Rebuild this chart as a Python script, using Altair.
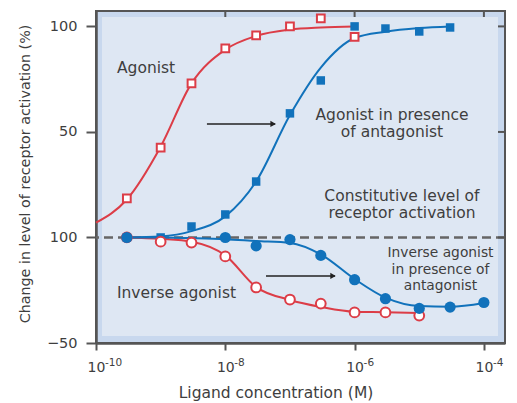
import altair as alt
import pandas as pd

# ---------------- data ----------------
# measured points
conc_agonist = [3e-10, 1e-9, 3e-9, 1e-8, 3e-8, 1e-7, 3e-7, 1e-6]
resp_agonist = [18.5, 42.6, 73, 89.6, 95.7, 100, 103.8, 95]

conc_ag_antag = [3e-10, 1e-9, 3e-9, 1e-8, 3e-8, 1e-7, 3e-7, 1e-6, 3e-6, 1e-5, 3e-5]
resp_ag_antag = [0, 0, 5.2, 10.9, 26.5, 58.8, 74.4, 100, 99, 97.6, 99.5]

conc_inverse = [3e-10, 1e-9, 3e-9, 1e-8, 3e-8, 1e-7, 3e-7, 1e-6, 3e-6, 1e-5]
resp_inverse = [0, -2, -2.4, -9, -23.7, -29.4, -31.3, -35.5, -35.5, -37]

conc_inv_antag = [3e-10, 1e-8, 3e-8, 1e-7, 3e-7, 1e-6, 3e-6, 1e-5, 3e-5, 1e-4]
resp_inv_antag = [0, 0, -4, -1, -8.5, -20, -29, -33.6, -33, -30.8]

# fitted curves
fit_agonist_x = [1e-10, 3e-10, 1e-9, 3e-9, 1e-8, 3e-8, 1e-7, 3e-7, 1e-6]
fit_agonist_y = [7, 18, 43, 73, 89, 95.5, 98.5, 99.5, 100]

fit_ag_antag_x = [3e-10, 1e-9, 3e-9, 1e-8, 3e-8, 1e-7, 3e-7, 1e-6, 3e-6, 1e-5, 3e-5]
fit_ag_antag_y = [0, 0.5, 3, 10, 26.5, 58, 80.5, 94.5, 97.5, 99.2, 100]

fit_inverse_x = [3e-10, 1e-9, 3e-9, 1e-8, 3e-8, 1e-7, 3e-7, 1e-6, 3e-6, 1e-5]
fit_inverse_y = [0, -0.7, -2, -8.5, -23.5, -29.6, -32.9, -35.2, -35.4, -35.8]

fit_inv_antag_x = [3e-10, 1e-9, 3e-9, 1e-8, 3e-8, 1e-7, 3e-7, 1e-6, 3e-6, 1e-5, 3e-5, 1e-4]
fit_inv_antag_y = [0, 0, -0.3, -0.8, -1.7, -2.6, -8, -19.7, -28.5, -32.5, -32.8, -31]

# annotations
big_labels = ["Agonist", "Agonist in presence", "of antagonist",
              "Constitutive level of", "receptor activation", "Inverse agonist"]
big_label_x = [2.11e-10, 3.79e-6, 3.79e-6, 5.4e-6, 5.4e-6, 2.11e-10]
big_label_y = [80.3, 58.1, 50.0, 19.8, 11.5, -26.3]
big_label_align = ["left", "center", "center", "center", "center", "left"]

small_labels = ["Inverse agonist", "in presence of", "antagonist"]
small_label_x = [2.13e-5, 2.13e-5, 2.13e-5]
small_label_y = [-7.3, -15.2, -23.0]

arrow_start = [5.2e-9, 4.26e-8]
arrow_end = [5.9e-8, 4.98e-7]
arrow_level = [53.8, -18.2]

x_ticks = [1e-10, 1e-8, 1e-6, 1e-4]
x_exponents = ["-10", "-8", "-6", "-4"]
y_ticks = [-50, 0, 50, 100]
baseline_level = [0]

# ---------------- styling ----------------
RED = "#dc3d47"
BLUE = "#1172bb"
TXT = "#3e3e3e"
AX = "#555555"
BAND = "#c8d8ee"
INNER = "#dee7f3"
FONT = "DejaVu Sans"
W, H = 409, 332

xscale = alt.Scale(type="log", domain=[1e-10, 2.12e-4], nice=False)
yscale = alt.Scale(domain=[-50, 107.3], nice=False, zero=False)

xaxis = alt.Axis(
    values=x_ticks, labelExpr="'10'", grid=False, labelFlush=False, labelOverlap=False,
    tickSize=7, tickWidth=2, tickColor=AX, domainColor=AX, domainWidth=2.5,
    labelFont=FONT, labelFontSize=14, labelColor=TXT, labelBaseline="alphabetic",
    labelPadding=21, title="Ligand concentration (M)", titleFont=FONT,
    titleFontSize=15.5, titleFontWeight="normal", titleColor=TXT,
    titleX=179.5, titleY=54, titleAlign="center", titleBaseline="alphabetic",
)
yaxis = alt.Axis(
    values=y_ticks, format="d",
    labelExpr="datum.value == 0 ? '100' : (datum.value < 0 ? '\u221250' : datum.label)",
    grid=False, labelFlush=False, labelOverlap=False,
    tickSize=10, tickWidth=2, tickColor=AX, domainColor=AX, domainWidth=2.5,
    labelFont=FONT, labelFontSize=14.5, labelColor=TXT, labelPadding=9,
    title="Change in level of receptor activation (%)", titleFont=FONT,
    titleFontSize=14.3, titleFontWeight="normal", titleColor=TXT,
    titleX=-70.5, titleY=162.5, titleAngle=270, titleAlign="center",
    titleBaseline="middle",
)


def X(f="x"):
    return alt.X(f"{f}:Q", scale=xscale, axis=xaxis)


def Y(f="y"):
    return alt.Y(f"{f}:Q", scale=yscale, axis=yaxis)


def df(xs, ys):
    return pd.DataFrame({"x": xs, "y": ys})


layers = []

# inner lighter panel (decorative)
layers.append(
    alt.Chart(pd.DataFrame({"a": [0]})).mark_rect(fill=INNER).encode(
        x=alt.value(6), x2=alt.value(W - 7), y=alt.value(6), y2=alt.value(H - 7)
    )
)

# constitutive level dashed line
layers.append(
    alt.Chart(pd.DataFrame({"y": baseline_level})).mark_rule(
        color="#666666", strokeWidth=2.5, strokeDash=[9, 5]
    ).encode(y=Y())
)

# fitted curves
for xs, ys, col in [
    (fit_agonist_x, fit_agonist_y, RED),
    (fit_ag_antag_x, fit_ag_antag_y, BLUE),
    (fit_inverse_x, fit_inverse_y, RED),
    (fit_inv_antag_x, fit_inv_antag_y, BLUE),
]:
    layers.append(
        alt.Chart(df(xs, ys)).mark_line(color=col, strokeWidth=2, interpolate="monotone")
        .encode(x=X(), y=Y())
    )

# points
layers.append(
    alt.Chart(df(conc_agonist, resp_agonist)).mark_point(
        shape="square", filled=True, fill="white", stroke=RED, strokeWidth=2,
        size=60, opacity=1
    ).encode(x=X(), y=Y())
)
layers.append(
    alt.Chart(df(conc_ag_antag, resp_ag_antag)).mark_point(
        shape="square", filled=True, fill=BLUE, size=72, opacity=1
    ).encode(x=X(), y=Y())
)
layers.append(
    alt.Chart(df(conc_inverse, resp_inverse)).mark_point(
        shape="circle", filled=True, fill="white", stroke=RED, strokeWidth=2,
        size=95, opacity=1
    ).encode(x=X(), y=Y())
)
layers.append(
    alt.Chart(df(conc_inv_antag, resp_inv_antag)).mark_point(
        shape="circle", filled=True, fill=BLUE, size=125, opacity=1
    ).encode(x=X(), y=Y())
)

# arrows
arrows = pd.DataFrame({"x": arrow_start, "x2": arrow_end, "y": arrow_level})
layers.append(
    alt.Chart(arrows).mark_rule(color="#222222", strokeWidth=1.5).encode(
        x=X(), x2=alt.X2("x2:Q"), y=Y()
    )
)
layers.append(
    alt.Chart(arrows).mark_point(
        shape="triangle-right", filled=True, fill="#222222", size=40, opacity=1, xOffset=-2
    ).encode(x=X("x2"), y=Y())
)

# annotations
big = pd.DataFrame({"x": big_label_x, "y": big_label_y, "t": big_labels, "al": big_label_align})
for al in ["left", "center"]:
    layers.append(
        alt.Chart(big[big["al"] == al]).mark_text(
            font=FONT, fontSize=15.5, color=TXT, align=al, baseline="middle"
        ).encode(x=X(), y=Y(), text="t:N")
    )
small = pd.DataFrame({"x": small_label_x, "y": small_label_y, "t": small_labels})
layers.append(
    alt.Chart(small).mark_text(
        font=FONT, fontSize=13.8, color=TXT, align="center", baseline="middle"
    ).encode(x=X(), y=Y(), text="t:N")
)

# exponents of tick labels
exps = pd.DataFrame({"x": x_ticks, "t": x_exponents})
layers.append(
    alt.Chart(exps).mark_text(
        font=FONT, fontSize=10.5, color=TXT, align="left", baseline="alphabetic", dx=9
    ).encode(x=X(), y=alt.value(H + 23), text="t:N")
)

# inward ticks on top and right borders
layers.append(
    alt.Chart(pd.DataFrame({"x": x_ticks[1:]})).mark_rule(color=AX, strokeWidth=2).encode(
        x=X(), y=alt.value(0), y2=alt.value(6)
    )
)
layers.append(
    alt.Chart(pd.DataFrame({"y": [100, 50, 0]})).mark_rule(color=AX, strokeWidth=2).encode(
        y=Y(), x=alt.value(W - 7), x2=alt.value(W)
    )
)

chart = (
    alt.layer(*layers)
    .properties(
        width=W, height=H,
        autosize=alt.AutoSizeParams(type="none"),
        padding={"left": 88, "top": 3, "right": 4, "bottom": 60},
        background="white",
    )
    .configure_view(stroke=AX, strokeWidth=2, fill=BAND)
)

chart.save("out.html", embed_options={"renderer": "svg", "actions": False})
